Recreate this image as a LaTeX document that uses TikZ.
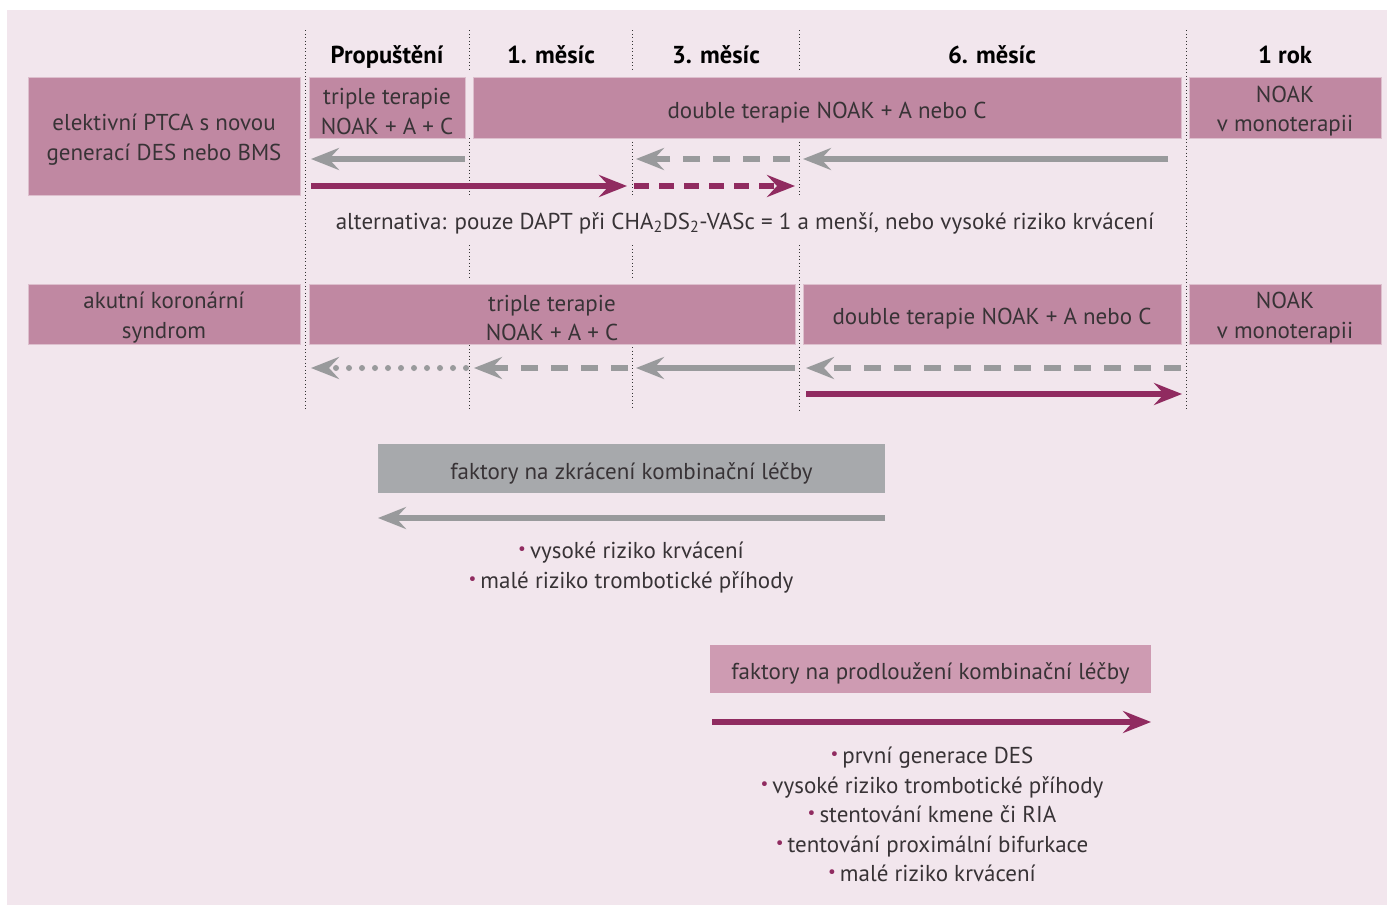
\documentclass[tikz,border=0pt]{standalone}
\usepackage{fontspec}
\setmainfont{PT Sans}
\usetikzlibrary{arrows.meta}
\definecolor{bg}{HTML}{F2E6ED}
\definecolor{boxc}{HTML}{C088A2}
\definecolor{boxedge}{HTML}{DDBFCD}
\definecolor{box2}{HTML}{CE9BB2}
\definecolor{greybox}{HTML}{A7A9AC}
\definecolor{mag}{HTML}{902B60}
\definecolor{garrow}{HTML}{999A9C}
\definecolor{txt}{HTML}{383336}
\tikzset{
  boxbase/.style={fill=boxc, draw=boxedge, line width=0.8pt, text=txt, align=center, inner sep=0pt,
     font=\fontsize{23}{29.5}\selectfont},
  box/.style={boxbase},
  boxone/.style={boxbase, text height=21pt, text depth=0pt},
  head/.style={text=black, anchor=base, inner sep=0pt, font=\fontsize{24.5}{28}\selectfont\bfseries},
  vline/.style={draw=black!80, line width=1pt, dash pattern=on 1pt off 2.5pt},
  gtip/.style={-{Stealth[length=28pt,width=22pt,inset=10pt]}},
  garr/.style={gtip, draw=garrow, line width=6pt},
  marr/.style={gtip, draw=mag, line width=6pt},
  gdash/.style={dash pattern=on 17pt off 13pt},
  mdash/.style={dash pattern=on 15pt off 10pt},
  gdot/.style={line cap=round, dash pattern=on 0pt off 13pt},
  plain/.style={text=txt, anchor=base, inner sep=0pt, font=\fontsize{23}{29.5}\selectfont},
}
\newcommand{\bul}{\textcolor{mag}{\raisebox{0.3ex}{\scalebox{0.75}{•}}}\hspace{4pt}}
\newcommand{\tstrut}{\rule{0pt}{24pt}}
\begin{document}
\begin{tikzpicture}[x=1pt,y=-1pt]
\useasboundingbox (0,0) rectangle (1387,905);
\fill[white] (0,0) rectangle (1387,905);
\fill[bg] (7,10) rectangle (1387,905);

% vertical dotted lines
\draw[vline] (305,30) -- (305,410);
\foreach \x in {469,632} {
  \draw[vline] (\x,30) -- (\x,72);
  \draw[vline] (\x,138) -- (\x,196);
  \draw[vline] (\x,245) -- (\x,278);
}
\draw[vline] (469,345) -- (469,410);
\draw[vline] (632,340) -- (632,410);
\draw[vline] (799,30) -- (799,72);
\draw[vline] (799,138) -- (799,196);
\draw[vline] (799,245) -- (799,410);
\draw[vline] (1186,30) -- (1186,410);

% headers
\node[head] (h0) at (387,63) {Propuštění};
\node[head] (h1) at (551,63) {1. měsíc};
\node[head] (h3) at (716,63) {3. měsíc};
\node[head] (h6) at (992,63) {6. měsíc};
\node[head] (h12) at (1285,63) {1 rok};

% row 1
\node[box, minimum width=272pt, minimum height=118pt] (e1) at (164,136) {\tstrut elektivní PTCA s novou\\generací DES nebo BMS};
\node[box, minimum width=156pt, minimum height=61pt] (t1) at (387,107.5) {\tstrut triple terapie\\NOAK + A + C};
\node[boxone, minimum width=708pt, minimum height=61pt] (d1) at (827,107.5) {double terapie NOAK + A nebo C};
\node[box, minimum width=192pt, minimum height=61pt] (n1) at (1285,107.5) {\tstrut NOAK\\v monoterapii};

\coordinate (r1a) at (465,159);
\coordinate (r1b) at (311,159);
\coordinate (r1c) at (790,159);
\coordinate (r1d) at (636,159);
\coordinate (r1e) at (1168,159);
\coordinate (r1f) at (803,159);
\draw[garr] (r1a) -- (r1b);
\draw[garr, gdash] (r1c) -- (r1d);
\draw[garr] (r1e) -- (r1f);
\coordinate (m1a) at (311,186);
\coordinate (m1b) at (627,186);
\coordinate (m1c) at (634,186);
\coordinate (m1d) at (795,186);
\draw[marr] (m1a) -- (m1b);
\draw[marr, mdash] (m1c) -- (m1d);

\node[plain] (alt) at (745,229) {alternativa: pouze DAPT při CHA\textsubscript{2}DS\textsubscript{2}-VASc = 1 a menší, nebo vysoké riziko krvácení};

% row 2
\node[box, minimum width=272pt, minimum height=60pt] (a2) at (164,314) {\tstrut akutní koronární\\syndrom};
\node[box, minimum width=486pt, minimum height=60pt] (t2) at (552,314) {\tstrut triple terapie\\NOAK + A + C};
\node[boxone, minimum width=378pt, minimum height=60pt] (d2) at (992,314) {double terapie NOAK + A nebo C};
\node[box, minimum width=192pt, minimum height=60pt] (n2) at (1285,314) {\tstrut NOAK\\v monoterapii};

\coordinate (r2a) at (466,368);
\coordinate (r2b) at (311,368);
\coordinate (r2c) at (628,368);
\coordinate (r2d) at (474,368);
\coordinate (r2e) at (795,368);
\coordinate (r2f) at (636,368);
\coordinate (r2g) at (1181,368);
\coordinate (r2h) at (806,368);
\draw[garr, gdot] (r2a) -- (r2b);
\draw[garr, gdash] (r2c) -- (r2d);
\draw[garr] (r2e) -- (r2f);
\draw[garr, gdash] (r2g) -- (r2h);
\coordinate (m2a) at (806,394);
\coordinate (m2b) at (1182,394);
\draw[marr] (m2a) -- (m2b);

% shortening factors
\node[boxone, fill=greybox, draw=none, minimum width=507pt, minimum height=49pt] (fz) at (631.5,468.5) {faktory na zkrácení kombinační léčby};
\coordinate (fza) at (885,518);
\coordinate (fzb) at (378,518);
\draw[garr] (fza) -- (fzb);
\node[plain] (fz1) at (631,558) {\bul vysoké riziko krvácení};
\node[plain] (fz2) at (631,588) {\bul malé riziko trombotické příhody};

% prolonging factors
\node[boxone, fill=box2, draw=none, minimum width=441pt, minimum height=48pt] (fp) at (930.5,669) {faktory na prodloužení kombinační léčby};
\coordinate (fpa) at (712,722);
\coordinate (fpb) at (1151,722);
\draw[marr] (fpa) -- (fpb);
\node[plain] (fp1) at (932,763) {\bul první generace DES};
\node[plain] (fp2) at (932,793) {\bul vysoké riziko trombotické příhody};
\node[plain] (fp3) at (932,822) {\bul stentování kmene či RIA};
\node[plain] (fp4) at (932,852) {\bul tentování proximální bifurkace};
\node[plain] (fp5) at (932,881) {\bul malé riziko krvácení};
\end{tikzpicture}
\end{document}
